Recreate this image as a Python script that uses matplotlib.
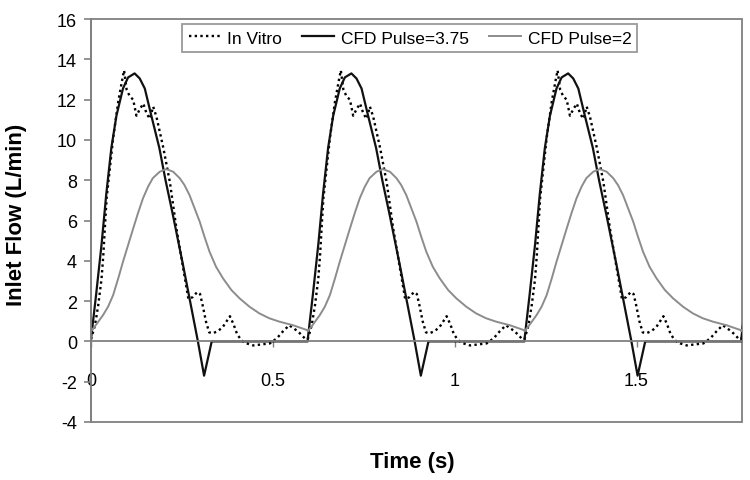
import numpy as np
import matplotlib
matplotlib.use("Agg")
import matplotlib.pyplot as plt
from matplotlib.patches import Rectangle

plt.rcParams['font.family'] = ['Liberation Sans', 'DejaVu Sans']
plt.rcParams['axes.unicode_minus'] = False

# one heart cycle of each series (time in s from cycle start)
cycle_starts = [0.0, 0.596, 1.192, 1.788]

t_vitro = [0, 0.011, 0.02, 0.029, 0.034, 0.038, 0.043, 0.052, 0.061, 0.075, 0.085, 0.091,
           0.098, 0.107, 0.116, 0.125, 0.135, 0.144, 0.153, 0.162, 0.171, 0.18, 0.199,
           0.217, 0.235, 0.254, 0.268, 0.28, 0.292, 0.3, 0.307, 0.316, 0.325, 0.334,
           0.348, 0.362, 0.373, 0.382, 0.392, 0.402, 0.414, 0.428, 0.446, 0.469, 0.492,
           0.511, 0.528, 0.545, 0.569, 0.588, 0.596]
v_vitro = [0.1, 0.8, 1.8, 3.1, 4.3, 5.6, 7.1, 8.6, 10.1, 11.9, 12.9, 13.45,
           12.5, 12.15, 12.0, 11.2, 11.55, 11.8, 11.3, 11.05, 11.65, 11.15, 9.6,
           7.9, 5.6, 3.6, 2.1, 2.2, 2.45, 2.35, 1.8, 1.0, 0.45, 0.4,
           0.5, 0.7, 1.0, 1.25, 0.85, 0.35, 0.05, -0.1, -0.2, -0.15, -0.1,
           0.15, 0.5, 0.8, 0.5, 0.15, 0.1]

t_cfd375 = [0, 0.014, 0.029, 0.042, 0.056, 0.07, 0.088, 0.102, 0.12, 0.134, 0.148,
            0.166, 0.188, 0.205, 0.225, 0.253, 0.28, 0.294, 0.311, 0.332, 0.596]
v_cfd375 = [0.1, 2.3, 4.8, 7.3, 9.6, 11.2, 12.55, 13.1, 13.3, 13.05, 12.55,
            11.2, 9.6, 8.0, 6.3, 3.8, 1.3, 0.0, -1.7, 0.0, 0.0]

t_cfd2 = [0, 0.015, 0.033, 0.047, 0.061, 0.075, 0.088, 0.102, 0.116, 0.129, 0.143,
          0.157, 0.17, 0.189, 0.207, 0.226, 0.244, 0.257, 0.271, 0.285, 0.299, 0.312,
          0.326, 0.344, 0.363, 0.386, 0.409, 0.436, 0.463, 0.49, 0.518, 0.556, 0.596]
v_cfd2 = [0.5, 0.85, 1.3, 1.72, 2.3, 3.13, 3.95, 4.78, 5.6, 6.35, 7.1,
          7.68, 8.1, 8.42, 8.55, 8.42, 8.1, 7.76, 7.26, 6.6, 5.94, 5.2,
          4.45, 3.7, 3.13, 2.55, 2.13, 1.72, 1.39, 1.15, 0.98, 0.8, 0.55]


def tile(t, v):
    tt = np.concatenate([np.array(t) + s for s in cycle_starts])
    vv = np.concatenate([np.array(v) for s in cycle_starts])
    return tt, vv


fig = plt.figure(figsize=(7.5, 4.81), dpi=100)
ax = fig.add_axes([0.1213, 0.1206, 0.868, 0.8378])

tv, vv = tile(t_vitro, v_vitro)
ax.plot(tv, vv, color='black', lw=1.7, linestyle=(0, (1, 1.4)), label='In Vitro')
tc, vc = tile(t_cfd375, v_cfd375)
ax.plot(tc, vc, color='#111111', lw=1.6, label='CFD Pulse=3.75')
tg, vg = tile(t_cfd2, v_cfd2)
ax.plot(tg, vg, color='#8c8c8c', lw=1.4, label='CFD Pulse=2')

ax.set_xlim(0, 1.79)
ax.set_ylim(-4, 16)
ax.set_yticks(np.arange(-4, 17, 2))
ax.set_xticks([0, 0.5, 1, 1.5])
ax.set_xticklabels(['0', '0.5', '1', '1.5'])

# x axis crosses at y=0, plot area box drawn separately
for s in ['top', 'right']:
    ax.spines[s].set_visible(False)
ax.spines['bottom'].set_position(('data', 0))
ax.spines['bottom'].set_color('#808080')
ax.spines['bottom'].set_linewidth(1.3)
ax.spines['left'].set_color('#808080')
ax.spines['left'].set_linewidth(1.3)
ax.add_patch(Rectangle((0, 0), 1, 1, transform=ax.transAxes, fill=False,
                       edgecolor='#808080', lw=1.3, clip_on=False, zorder=0))

ax.tick_params(axis='y', direction='out', length=5, width=1.2, color='#808080',
               labelsize=13, pad=5)
ax.tick_params(axis='x', direction='out', length=4, width=1.0, color='#808080',
               labelsize=13, pad=18)

ax.set_xlabel('Time (s)', fontsize=16, fontweight='bold')
ax.set_ylabel('Inlet Flow (L/min)', fontsize=16, fontweight='bold')
ax.xaxis.set_label_coords(0.493, -0.099)
ax.yaxis.set_label_coords(-0.114, 0.516)
ax.xaxis.label.set_va('center')
ax.yaxis.label.set_va('center')

leg = ax.legend(loc='center', bbox_to_anchor=(0.49, 0.953), ncol=3, fontsize=12.5,
                frameon=True, fancybox=False, handlelength=1.8, handletextpad=0.4,
                columnspacing=1.2, borderpad=0.35)
leg.get_frame().set_edgecolor('#808080')
leg.get_frame().set_linewidth(1.3)

fig.savefig('out.png', dpi=100)
